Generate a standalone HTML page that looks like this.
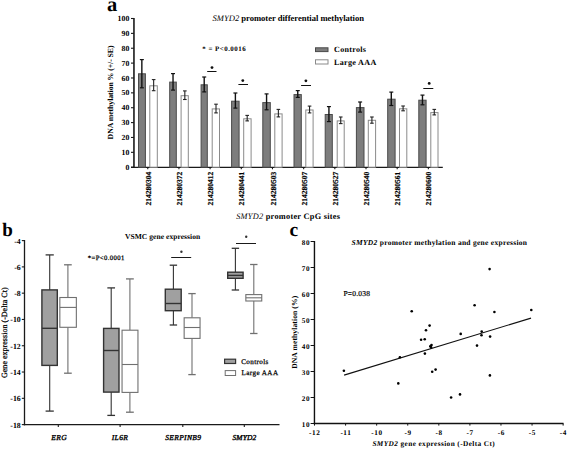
<!DOCTYPE html>
<html><head><meta charset="utf-8"><style>
html,body{margin:0;padding:0;background:#fff;width:567px;height:449px;overflow:hidden}
svg{display:block;font-family:"Liberation Serif", serif;text-rendering:geometricPrecision}
</style></head><body>
<svg width="567" height="449" viewBox="0 0 567 449" font-family='"Liberation Serif", serif'>
<text x="107.10" y="11.10" font-size="20.5" font-weight="bold" font-style="normal" text-anchor="start" fill="#000" >a</text>
<text x="212.6" y="21.3" font-size="8.6" font-weight="bold" textLength="151.4" lengthAdjust="spacing"><tspan font-style="italic" font-weight="normal">SMYD2</tspan> promoter differential methylation</text>
<line x1="133.95" y1="18.00" x2="133.95" y2="167.95" stroke="#1a1a1a" stroke-width="1.6"/>
<line x1="131.00" y1="167.45" x2="442.80" y2="167.45" stroke="#1a1a1a" stroke-width="1.2"/>
<line x1="131.00" y1="167.20" x2="133.95" y2="167.20" stroke="#1a1a1a" stroke-width="1.1"/>
<text x="129.30" y="169.80" font-size="7.8" font-weight="bold" font-style="normal" text-anchor="end" fill="#000" >0</text>
<line x1="131.00" y1="152.33" x2="133.95" y2="152.33" stroke="#1a1a1a" stroke-width="1.1"/>
<text x="129.30" y="154.93" font-size="7.8" font-weight="bold" font-style="normal" text-anchor="end" fill="#000" >10</text>
<line x1="131.00" y1="137.46" x2="133.95" y2="137.46" stroke="#1a1a1a" stroke-width="1.1"/>
<text x="129.30" y="140.06" font-size="7.8" font-weight="bold" font-style="normal" text-anchor="end" fill="#000" >20</text>
<line x1="131.00" y1="122.59" x2="133.95" y2="122.59" stroke="#1a1a1a" stroke-width="1.1"/>
<text x="129.30" y="125.19" font-size="7.8" font-weight="bold" font-style="normal" text-anchor="end" fill="#000" >30</text>
<line x1="131.00" y1="107.72" x2="133.95" y2="107.72" stroke="#1a1a1a" stroke-width="1.1"/>
<text x="129.30" y="110.32" font-size="7.8" font-weight="bold" font-style="normal" text-anchor="end" fill="#000" >40</text>
<line x1="131.00" y1="92.85" x2="133.95" y2="92.85" stroke="#1a1a1a" stroke-width="1.1"/>
<text x="129.30" y="95.45" font-size="7.8" font-weight="bold" font-style="normal" text-anchor="end" fill="#000" >50</text>
<line x1="131.00" y1="77.98" x2="133.95" y2="77.98" stroke="#1a1a1a" stroke-width="1.1"/>
<text x="129.30" y="80.58" font-size="7.8" font-weight="bold" font-style="normal" text-anchor="end" fill="#000" >60</text>
<line x1="131.00" y1="63.11" x2="133.95" y2="63.11" stroke="#1a1a1a" stroke-width="1.1"/>
<text x="129.30" y="65.71" font-size="7.8" font-weight="bold" font-style="normal" text-anchor="end" fill="#000" >70</text>
<line x1="131.00" y1="48.24" x2="133.95" y2="48.24" stroke="#1a1a1a" stroke-width="1.1"/>
<text x="129.30" y="50.84" font-size="7.8" font-weight="bold" font-style="normal" text-anchor="end" fill="#000" >80</text>
<line x1="131.00" y1="33.37" x2="133.95" y2="33.37" stroke="#1a1a1a" stroke-width="1.1"/>
<text x="129.30" y="35.97" font-size="7.8" font-weight="bold" font-style="normal" text-anchor="end" fill="#000" >90</text>
<line x1="131.00" y1="18.50" x2="133.95" y2="18.50" stroke="#1a1a1a" stroke-width="1.1"/>
<text x="129.30" y="21.10" font-size="7.8" font-weight="bold" font-style="normal" text-anchor="end" fill="#000" >100</text>
<text transform="translate(113.4,139.4) rotate(-90)" font-size="7.8" font-weight="bold" textLength="94" lengthAdjust="spacing">DNA methylation % (+/- SE)</text>
<rect x="138.50" y="73.80" width="6.90" height="93.40" fill="#7d7d7d" stroke="#4a4a4a" stroke-width="1"/>
<rect x="149.80" y="85.80" width="7.50" height="81.40" fill="#fff" stroke="#8a8a8a" stroke-width="1"/>
<line x1="141.85" y1="59.60" x2="141.85" y2="87.80" stroke="#111" stroke-width="1.4"/>
<line x1="139.85" y1="59.60" x2="143.85" y2="59.60" stroke="#111" stroke-width="1.2"/>
<line x1="139.85" y1="87.80" x2="143.85" y2="87.80" stroke="#111" stroke-width="1.2"/>
<line x1="153.65" y1="79.60" x2="153.65" y2="90.70" stroke="#222" stroke-width="1.1"/>
<line x1="151.85" y1="79.60" x2="155.45" y2="79.60" stroke="#222" stroke-width="1.1"/>
<line x1="151.85" y1="90.70" x2="155.45" y2="90.70" stroke="#222" stroke-width="1.1"/>
<line x1="147.75" y1="167.20" x2="147.75" y2="169.30" stroke="#1a1a1a" stroke-width="1.1"/>
<text transform="translate(150.85,171.7) rotate(-90)" font-size="7.5" font-weight="bold" text-anchor="end" textLength="33.8" lengthAdjust="spacing" stroke="#000" stroke-width="0.2">214280304</text>
<rect x="169.70" y="82.10" width="6.60" height="85.10" fill="#7d7d7d" stroke="#4a4a4a" stroke-width="1"/>
<rect x="181.10" y="95.70" width="7.20" height="71.50" fill="#fff" stroke="#8a8a8a" stroke-width="1"/>
<line x1="173.03" y1="73.60" x2="173.03" y2="90.10" stroke="#111" stroke-width="1.4"/>
<line x1="171.03" y1="73.60" x2="175.03" y2="73.60" stroke="#111" stroke-width="1.2"/>
<line x1="171.03" y1="90.10" x2="175.03" y2="90.10" stroke="#111" stroke-width="1.2"/>
<line x1="184.83" y1="90.90" x2="184.83" y2="99.50" stroke="#222" stroke-width="1.1"/>
<line x1="183.03" y1="90.90" x2="186.63" y2="90.90" stroke="#222" stroke-width="1.1"/>
<line x1="183.03" y1="99.50" x2="186.63" y2="99.50" stroke="#222" stroke-width="1.1"/>
<line x1="178.93" y1="167.20" x2="178.93" y2="169.30" stroke="#1a1a1a" stroke-width="1.1"/>
<text transform="translate(182.03,171.7) rotate(-90)" font-size="7.5" font-weight="bold" text-anchor="end" textLength="33.8" lengthAdjust="spacing" stroke="#000" stroke-width="0.2">214280372</text>
<rect x="201.10" y="84.80" width="6.20" height="82.40" fill="#7d7d7d" stroke="#4a4a4a" stroke-width="1"/>
<rect x="212.20" y="108.90" width="7.30" height="58.30" fill="#fff" stroke="#8a8a8a" stroke-width="1"/>
<line x1="204.21" y1="77.00" x2="204.21" y2="91.90" stroke="#111" stroke-width="1.4"/>
<line x1="202.21" y1="77.00" x2="206.21" y2="77.00" stroke="#111" stroke-width="1.2"/>
<line x1="202.21" y1="91.90" x2="206.21" y2="91.90" stroke="#111" stroke-width="1.2"/>
<line x1="216.01" y1="104.20" x2="216.01" y2="112.90" stroke="#222" stroke-width="1.1"/>
<line x1="214.21" y1="104.20" x2="217.81" y2="104.20" stroke="#222" stroke-width="1.1"/>
<line x1="214.21" y1="112.90" x2="217.81" y2="112.90" stroke="#222" stroke-width="1.1"/>
<line x1="210.11" y1="167.20" x2="210.11" y2="169.30" stroke="#1a1a1a" stroke-width="1.1"/>
<text transform="translate(213.21,171.7) rotate(-90)" font-size="7.5" font-weight="bold" text-anchor="end" textLength="33.8" lengthAdjust="spacing" stroke="#000" stroke-width="0.2">214280412</text>
<rect x="231.60" y="101.20" width="7.50" height="66.00" fill="#7d7d7d" stroke="#4a4a4a" stroke-width="1"/>
<rect x="243.70" y="118.80" width="7.40" height="48.40" fill="#fff" stroke="#8a8a8a" stroke-width="1"/>
<line x1="235.39" y1="93.00" x2="235.39" y2="108.10" stroke="#111" stroke-width="1.4"/>
<line x1="233.39" y1="93.00" x2="237.39" y2="93.00" stroke="#111" stroke-width="1.2"/>
<line x1="233.39" y1="108.10" x2="237.39" y2="108.10" stroke="#111" stroke-width="1.2"/>
<line x1="247.19" y1="115.40" x2="247.19" y2="120.90" stroke="#222" stroke-width="1.1"/>
<line x1="245.39" y1="115.40" x2="248.99" y2="115.40" stroke="#222" stroke-width="1.1"/>
<line x1="245.39" y1="120.90" x2="248.99" y2="120.90" stroke="#222" stroke-width="1.1"/>
<line x1="241.29" y1="167.20" x2="241.29" y2="169.30" stroke="#1a1a1a" stroke-width="1.1"/>
<text transform="translate(244.39,171.7) rotate(-90)" font-size="7.5" font-weight="bold" text-anchor="end" textLength="33.8" lengthAdjust="spacing" stroke="#000" stroke-width="0.2">214280441</text>
<rect x="262.80" y="102.60" width="7.50" height="64.60" fill="#7d7d7d" stroke="#4a4a4a" stroke-width="1"/>
<rect x="274.80" y="113.90" width="7.30" height="53.30" fill="#fff" stroke="#8a8a8a" stroke-width="1"/>
<line x1="266.57" y1="93.90" x2="266.57" y2="109.80" stroke="#111" stroke-width="1.4"/>
<line x1="264.57" y1="93.90" x2="268.57" y2="93.90" stroke="#111" stroke-width="1.2"/>
<line x1="264.57" y1="109.80" x2="268.57" y2="109.80" stroke="#111" stroke-width="1.2"/>
<line x1="278.37" y1="109.40" x2="278.37" y2="116.90" stroke="#222" stroke-width="1.1"/>
<line x1="276.57" y1="109.40" x2="280.17" y2="109.40" stroke="#222" stroke-width="1.1"/>
<line x1="276.57" y1="116.90" x2="280.17" y2="116.90" stroke="#222" stroke-width="1.1"/>
<line x1="272.47" y1="167.20" x2="272.47" y2="169.30" stroke="#1a1a1a" stroke-width="1.1"/>
<text transform="translate(275.57,171.7) rotate(-90)" font-size="7.5" font-weight="bold" text-anchor="end" textLength="33.8" lengthAdjust="spacing" stroke="#000" stroke-width="0.2">214280503</text>
<rect x="294.00" y="94.60" width="7.30" height="72.60" fill="#7d7d7d" stroke="#4a4a4a" stroke-width="1"/>
<rect x="305.80" y="110.00" width="7.30" height="57.20" fill="#fff" stroke="#8a8a8a" stroke-width="1"/>
<line x1="297.75" y1="90.60" x2="297.75" y2="97.40" stroke="#111" stroke-width="1.4"/>
<line x1="295.75" y1="90.60" x2="299.75" y2="90.60" stroke="#111" stroke-width="1.2"/>
<line x1="295.75" y1="97.40" x2="299.75" y2="97.40" stroke="#111" stroke-width="1.2"/>
<line x1="309.55" y1="106.10" x2="309.55" y2="112.90" stroke="#222" stroke-width="1.1"/>
<line x1="307.75" y1="106.10" x2="311.35" y2="106.10" stroke="#222" stroke-width="1.1"/>
<line x1="307.75" y1="112.90" x2="311.35" y2="112.90" stroke="#222" stroke-width="1.1"/>
<line x1="303.65" y1="167.20" x2="303.65" y2="169.30" stroke="#1a1a1a" stroke-width="1.1"/>
<text transform="translate(306.75,171.7) rotate(-90)" font-size="7.5" font-weight="bold" text-anchor="end" textLength="33.8" lengthAdjust="spacing" stroke="#000" stroke-width="0.2">214280507</text>
<rect x="325.20" y="114.50" width="7.10" height="52.70" fill="#7d7d7d" stroke="#4a4a4a" stroke-width="1"/>
<rect x="337.20" y="120.90" width="7.00" height="46.30" fill="#fff" stroke="#8a8a8a" stroke-width="1"/>
<line x1="328.93" y1="106.60" x2="328.93" y2="121.60" stroke="#111" stroke-width="1.4"/>
<line x1="326.93" y1="106.60" x2="330.93" y2="106.60" stroke="#111" stroke-width="1.2"/>
<line x1="326.93" y1="121.60" x2="330.93" y2="121.60" stroke="#111" stroke-width="1.2"/>
<line x1="340.73" y1="117.00" x2="340.73" y2="123.60" stroke="#222" stroke-width="1.1"/>
<line x1="338.93" y1="117.00" x2="342.53" y2="117.00" stroke="#222" stroke-width="1.1"/>
<line x1="338.93" y1="123.60" x2="342.53" y2="123.60" stroke="#222" stroke-width="1.1"/>
<line x1="334.83" y1="167.20" x2="334.83" y2="169.30" stroke="#1a1a1a" stroke-width="1.1"/>
<text transform="translate(337.93,171.7) rotate(-90)" font-size="7.5" font-weight="bold" text-anchor="end" textLength="33.8" lengthAdjust="spacing" stroke="#000" stroke-width="0.2">214280527</text>
<rect x="356.40" y="107.60" width="7.60" height="59.60" fill="#7d7d7d" stroke="#4a4a4a" stroke-width="1"/>
<rect x="368.30" y="120.30" width="7.30" height="46.90" fill="#fff" stroke="#8a8a8a" stroke-width="1"/>
<line x1="360.11" y1="102.00" x2="360.11" y2="112.10" stroke="#111" stroke-width="1.4"/>
<line x1="358.11" y1="102.00" x2="362.11" y2="102.00" stroke="#111" stroke-width="1.2"/>
<line x1="358.11" y1="112.10" x2="362.11" y2="112.10" stroke="#111" stroke-width="1.2"/>
<line x1="371.91" y1="117.00" x2="371.91" y2="123.20" stroke="#222" stroke-width="1.1"/>
<line x1="370.11" y1="117.00" x2="373.71" y2="117.00" stroke="#222" stroke-width="1.1"/>
<line x1="370.11" y1="123.20" x2="373.71" y2="123.20" stroke="#222" stroke-width="1.1"/>
<line x1="366.01" y1="167.20" x2="366.01" y2="169.30" stroke="#1a1a1a" stroke-width="1.1"/>
<text transform="translate(369.11,171.7) rotate(-90)" font-size="7.5" font-weight="bold" text-anchor="end" textLength="33.8" lengthAdjust="spacing" stroke="#000" stroke-width="0.2">214280540</text>
<rect x="387.70" y="99.20" width="7.40" height="68.00" fill="#7d7d7d" stroke="#4a4a4a" stroke-width="1"/>
<rect x="399.50" y="108.80" width="7.30" height="58.40" fill="#fff" stroke="#8a8a8a" stroke-width="1"/>
<line x1="391.29" y1="92.10" x2="391.29" y2="105.50" stroke="#111" stroke-width="1.4"/>
<line x1="389.29" y1="92.10" x2="393.29" y2="92.10" stroke="#111" stroke-width="1.2"/>
<line x1="389.29" y1="105.50" x2="393.29" y2="105.50" stroke="#111" stroke-width="1.2"/>
<line x1="403.09" y1="106.00" x2="403.09" y2="110.80" stroke="#222" stroke-width="1.1"/>
<line x1="401.29" y1="106.00" x2="404.89" y2="106.00" stroke="#222" stroke-width="1.1"/>
<line x1="401.29" y1="110.80" x2="404.89" y2="110.80" stroke="#222" stroke-width="1.1"/>
<line x1="397.19" y1="167.20" x2="397.19" y2="169.30" stroke="#1a1a1a" stroke-width="1.1"/>
<text transform="translate(400.29,171.7) rotate(-90)" font-size="7.5" font-weight="bold" text-anchor="end" textLength="33.8" lengthAdjust="spacing" stroke="#000" stroke-width="0.2">214280561</text>
<rect x="418.80" y="100.20" width="7.30" height="67.00" fill="#7d7d7d" stroke="#4a4a4a" stroke-width="1"/>
<rect x="430.80" y="112.60" width="7.20" height="54.60" fill="#fff" stroke="#8a8a8a" stroke-width="1"/>
<line x1="422.47" y1="95.10" x2="422.47" y2="104.80" stroke="#111" stroke-width="1.4"/>
<line x1="420.47" y1="95.10" x2="424.47" y2="95.10" stroke="#111" stroke-width="1.2"/>
<line x1="420.47" y1="104.80" x2="424.47" y2="104.80" stroke="#111" stroke-width="1.2"/>
<line x1="434.27" y1="109.40" x2="434.27" y2="114.90" stroke="#222" stroke-width="1.1"/>
<line x1="432.47" y1="109.40" x2="436.07" y2="109.40" stroke="#222" stroke-width="1.1"/>
<line x1="432.47" y1="114.90" x2="436.07" y2="114.90" stroke="#222" stroke-width="1.1"/>
<line x1="428.37" y1="167.20" x2="428.37" y2="169.30" stroke="#1a1a1a" stroke-width="1.1"/>
<text transform="translate(431.47,171.7) rotate(-90)" font-size="7.5" font-weight="bold" text-anchor="end" textLength="33.8" lengthAdjust="spacing" stroke="#000" stroke-width="0.2">214280600</text>
<line x1="207.20" y1="71.50" x2="216.50" y2="71.50" stroke="#111" stroke-width="1.0"/>
<circle cx="212.00" cy="67.60" r="1.4" fill="#111"/>
<line x1="238.40" y1="84.50" x2="248.00" y2="84.50" stroke="#111" stroke-width="1.0"/>
<circle cx="242.80" cy="80.60" r="1.4" fill="#111"/>
<line x1="301.10" y1="85.50" x2="311.00" y2="85.50" stroke="#111" stroke-width="1.0"/>
<circle cx="305.90" cy="80.80" r="1.4" fill="#111"/>
<line x1="423.30" y1="88.50" x2="433.30" y2="88.50" stroke="#111" stroke-width="1.0"/>
<circle cx="429.20" cy="83.40" r="1.4" fill="#111"/>
<text x="202.30" y="50.50" font-size="6.9" font-weight="bold" font-style="normal" text-anchor="start" fill="#000" textLength="43.30" lengthAdjust="spacing" >* = P&lt;0.0016</text>
<rect x="315.50" y="47.80" width="12.50" height="3.80" fill="#7d7d7d" stroke="#4a4a4a" stroke-width="1"/>
<rect x="315.50" y="59.80" width="12.50" height="4.20" fill="#fff" stroke="#8a8a8a" stroke-width="1"/>
<text x="334.00" y="51.90" font-size="8.1" font-weight="bold" font-style="normal" text-anchor="start" fill="#000" textLength="32.00" lengthAdjust="spacing" >Controls</text>
<text x="334.00" y="64.70" font-size="8.1" font-weight="bold" font-style="normal" text-anchor="start" fill="#000" textLength="42.30" lengthAdjust="spacing" >Large AAA</text>
<text x="236.2" y="218.8" font-size="8.3" font-weight="bold" textLength="103.8" lengthAdjust="spacing"><tspan font-style="italic" font-weight="normal">SMYD2</tspan> promoter CpG sites</text>
<text x="2.30" y="236.00" font-size="19" font-weight="bold" font-style="normal" text-anchor="start" fill="#000" >b</text>
<line x1="24.50" y1="240.00" x2="24.50" y2="425.30" stroke="#1a1a1a" stroke-width="1.3"/>
<line x1="23.75" y1="424.60" x2="279.50" y2="424.60" stroke="#1a1a1a" stroke-width="1.4"/>
<line x1="21.80" y1="240.60" x2="24.50" y2="240.60" stroke="#1a1a1a" stroke-width="1.1"/>
<text x="20.70" y="243.60" font-size="7.8" font-weight="bold" font-style="normal" text-anchor="end" fill="#000" >-4</text>
<line x1="21.80" y1="266.89" x2="24.50" y2="266.89" stroke="#1a1a1a" stroke-width="1.1"/>
<text x="20.70" y="269.89" font-size="7.8" font-weight="bold" font-style="normal" text-anchor="end" fill="#000" >-6</text>
<line x1="21.80" y1="293.17" x2="24.50" y2="293.17" stroke="#1a1a1a" stroke-width="1.1"/>
<text x="20.70" y="296.17" font-size="7.8" font-weight="bold" font-style="normal" text-anchor="end" fill="#000" >-8</text>
<line x1="21.80" y1="319.46" x2="24.50" y2="319.46" stroke="#1a1a1a" stroke-width="1.1"/>
<text x="20.70" y="322.46" font-size="7.8" font-weight="bold" font-style="normal" text-anchor="end" fill="#000" >-10</text>
<line x1="21.80" y1="345.74" x2="24.50" y2="345.74" stroke="#1a1a1a" stroke-width="1.1"/>
<text x="20.70" y="348.74" font-size="7.8" font-weight="bold" font-style="normal" text-anchor="end" fill="#000" >-12</text>
<line x1="21.80" y1="372.03" x2="24.50" y2="372.03" stroke="#1a1a1a" stroke-width="1.1"/>
<text x="20.70" y="375.03" font-size="7.8" font-weight="bold" font-style="normal" text-anchor="end" fill="#000" >-14</text>
<line x1="21.80" y1="398.32" x2="24.50" y2="398.32" stroke="#1a1a1a" stroke-width="1.1"/>
<text x="20.70" y="401.32" font-size="7.8" font-weight="bold" font-style="normal" text-anchor="end" fill="#000" >-16</text>
<line x1="21.80" y1="424.60" x2="24.50" y2="424.60" stroke="#1a1a1a" stroke-width="1.1"/>
<text x="20.70" y="427.60" font-size="7.8" font-weight="bold" font-style="normal" text-anchor="end" fill="#000" >-18</text>
<text transform="translate(7.2,378.0) rotate(-90)" font-size="8.0" font-weight="normal" textLength="90.6" lengthAdjust="spacing" stroke="#000" stroke-width="0.25">Gene expression (-Delta Ct)</text>
<line x1="49.70" y1="254.90" x2="49.70" y2="289.90" stroke="#333" stroke-width="1.1"/>
<line x1="49.70" y1="365.40" x2="49.70" y2="411.10" stroke="#333" stroke-width="1.1"/>
<line x1="45.60" y1="254.90" x2="53.80" y2="254.90" stroke="#333" stroke-width="1.3"/>
<line x1="45.60" y1="411.10" x2="53.80" y2="411.10" stroke="#333" stroke-width="1.3"/>
<rect x="41.90" y="289.90" width="15.40" height="75.50" fill="#a0a0a0" stroke="#333" stroke-width="1.4"/>
<line x1="41.90" y1="328.30" x2="57.30" y2="328.30" stroke="#333" stroke-width="1.4"/>
<line x1="67.90" y1="264.80" x2="67.90" y2="297.50" stroke="#707070" stroke-width="1.1"/>
<line x1="67.90" y1="327.30" x2="67.90" y2="373.20" stroke="#707070" stroke-width="1.1"/>
<line x1="64.05" y1="264.80" x2="71.75" y2="264.80" stroke="#707070" stroke-width="1.3"/>
<line x1="64.05" y1="373.20" x2="71.75" y2="373.20" stroke="#707070" stroke-width="1.3"/>
<rect x="59.85" y="297.50" width="16.50" height="29.80" fill="#fff" stroke="#707070" stroke-width="1.1"/>
<line x1="59.85" y1="307.40" x2="76.35" y2="307.40" stroke="#707070" stroke-width="1.1"/>
<line x1="111.20" y1="287.90" x2="111.20" y2="328.40" stroke="#333" stroke-width="1.1"/>
<line x1="111.20" y1="392.10" x2="111.20" y2="415.40" stroke="#333" stroke-width="1.1"/>
<line x1="107.35" y1="287.90" x2="115.05" y2="287.90" stroke="#333" stroke-width="1.3"/>
<line x1="107.35" y1="415.40" x2="115.05" y2="415.40" stroke="#333" stroke-width="1.3"/>
<rect x="103.60" y="328.40" width="15.40" height="63.70" fill="#a0a0a0" stroke="#333" stroke-width="1.4"/>
<line x1="103.60" y1="350.50" x2="119.00" y2="350.50" stroke="#333" stroke-width="1.4"/>
<line x1="129.90" y1="278.90" x2="129.90" y2="330.20" stroke="#707070" stroke-width="1.1"/>
<line x1="129.90" y1="392.40" x2="129.90" y2="412.20" stroke="#707070" stroke-width="1.1"/>
<line x1="126.00" y1="278.90" x2="133.80" y2="278.90" stroke="#707070" stroke-width="1.3"/>
<line x1="126.00" y1="412.20" x2="133.80" y2="412.20" stroke="#707070" stroke-width="1.3"/>
<rect x="122.05" y="330.20" width="15.90" height="62.20" fill="#fff" stroke="#707070" stroke-width="1.1"/>
<line x1="122.05" y1="364.50" x2="137.95" y2="364.50" stroke="#707070" stroke-width="1.1"/>
<line x1="173.40" y1="265.20" x2="173.40" y2="289.20" stroke="#333" stroke-width="1.1"/>
<line x1="173.40" y1="310.70" x2="173.40" y2="325.00" stroke="#333" stroke-width="1.1"/>
<line x1="169.70" y1="265.20" x2="177.10" y2="265.20" stroke="#333" stroke-width="1.3"/>
<line x1="169.70" y1="325.00" x2="177.10" y2="325.00" stroke="#333" stroke-width="1.3"/>
<rect x="165.30" y="289.20" width="15.90" height="21.50" fill="#a0a0a0" stroke="#333" stroke-width="1.4"/>
<line x1="165.30" y1="303.50" x2="181.20" y2="303.50" stroke="#333" stroke-width="1.4"/>
<line x1="192.00" y1="293.60" x2="192.00" y2="317.80" stroke="#707070" stroke-width="1.1"/>
<line x1="192.00" y1="338.40" x2="192.00" y2="374.60" stroke="#707070" stroke-width="1.1"/>
<line x1="188.30" y1="293.60" x2="195.70" y2="293.60" stroke="#707070" stroke-width="1.3"/>
<line x1="188.30" y1="374.60" x2="195.70" y2="374.60" stroke="#707070" stroke-width="1.3"/>
<rect x="184.15" y="317.80" width="15.90" height="20.60" fill="#fff" stroke="#707070" stroke-width="1.1"/>
<line x1="184.15" y1="327.50" x2="200.05" y2="327.50" stroke="#707070" stroke-width="1.1"/>
<line x1="235.40" y1="248.30" x2="235.40" y2="272.20" stroke="#333" stroke-width="1.1"/>
<line x1="235.40" y1="278.30" x2="235.40" y2="290.00" stroke="#333" stroke-width="1.1"/>
<line x1="231.70" y1="248.30" x2="239.10" y2="248.30" stroke="#333" stroke-width="1.3"/>
<line x1="231.70" y1="290.00" x2="239.10" y2="290.00" stroke="#333" stroke-width="1.3"/>
<rect x="227.70" y="272.20" width="15.40" height="6.10" fill="#a0a0a0" stroke="#333" stroke-width="1.4"/>
<line x1="227.70" y1="275.40" x2="243.10" y2="275.40" stroke="#333" stroke-width="1.4"/>
<line x1="253.80" y1="264.50" x2="253.80" y2="294.60" stroke="#707070" stroke-width="1.1"/>
<line x1="253.80" y1="301.00" x2="253.80" y2="333.50" stroke="#707070" stroke-width="1.1"/>
<line x1="250.10" y1="264.50" x2="257.50" y2="264.50" stroke="#707070" stroke-width="1.3"/>
<line x1="250.10" y1="333.50" x2="257.50" y2="333.50" stroke="#707070" stroke-width="1.3"/>
<rect x="245.85" y="294.60" width="15.90" height="6.40" fill="#fff" stroke="#707070" stroke-width="1.1"/>
<line x1="245.85" y1="297.80" x2="261.75" y2="297.80" stroke="#707070" stroke-width="1.1"/>
<line x1="58.30" y1="424.60" x2="58.30" y2="427.00" stroke="#1a1a1a" stroke-width="1.1"/>
<line x1="120.10" y1="424.60" x2="120.10" y2="427.00" stroke="#1a1a1a" stroke-width="1.1"/>
<line x1="182.80" y1="424.60" x2="182.80" y2="427.00" stroke="#1a1a1a" stroke-width="1.1"/>
<line x1="244.30" y1="424.60" x2="244.30" y2="427.00" stroke="#1a1a1a" stroke-width="1.1"/>
<text x="58.90" y="439.90" font-size="7.5" font-weight="normal" font-style="italic" text-anchor="middle" fill="#000" textLength="15.40" lengthAdjust="spacing" stroke="#000" stroke-width="0.35">ERG</text>
<text x="119.80" y="439.90" font-size="7.5" font-weight="normal" font-style="italic" text-anchor="middle" fill="#000" textLength="16.20" lengthAdjust="spacing" stroke="#000" stroke-width="0.35">IL6R</text>
<text x="183.10" y="439.90" font-size="7.5" font-weight="normal" font-style="italic" text-anchor="middle" fill="#000" textLength="35.60" lengthAdjust="spacing" stroke="#000" stroke-width="0.35">SERPINB9</text>
<text x="244.40" y="439.90" font-size="7.5" font-weight="normal" font-style="italic" text-anchor="middle" fill="#000" textLength="23.90" lengthAdjust="spacing" stroke="#000" stroke-width="0.35">SMYD2</text>
<text x="125.00" y="238.80" font-size="7.5" font-weight="bold" font-style="normal" text-anchor="start" fill="#000" textLength="75.20" lengthAdjust="spacing" >VSMC gene expression</text>
<text x="87.80" y="259.60" font-size="6.7" font-weight="normal" font-style="normal" text-anchor="start" fill="#000" textLength="36.50" lengthAdjust="spacing" stroke="#000" stroke-width="0.25">*=P&lt;0.0001</text>
<line x1="171.20" y1="257.50" x2="191.20" y2="257.50" stroke="#1a1a1a" stroke-width="1.0"/>
<circle cx="181.40" cy="251.70" r="1.2" fill="#333"/>
<line x1="236.00" y1="243.50" x2="256.00" y2="243.50" stroke="#1a1a1a" stroke-width="1.0"/>
<circle cx="246.20" cy="236.70" r="1.2" fill="#333"/>
<rect x="224.60" y="359.20" width="11.00" height="4.30" fill="#a0a0a0" stroke="#333" stroke-width="1.2"/>
<rect x="225.20" y="370.60" width="10.40" height="4.90" fill="#fff" stroke="#707070" stroke-width="1.0"/>
<text x="241.20" y="363.70" font-size="7.1" font-weight="normal" font-style="normal" text-anchor="start" fill="#000" textLength="27.10" lengthAdjust="spacing" stroke="#000" stroke-width="0.25">Controls</text>
<text x="241.50" y="375.40" font-size="7.1" font-weight="normal" font-style="normal" text-anchor="start" fill="#000" textLength="36.50" lengthAdjust="spacing" stroke="#000" stroke-width="0.25">Large AAA</text>
<text x="289.60" y="236.00" font-size="19.5" font-weight="bold" font-style="normal" text-anchor="start" fill="#000" >c</text>
<line x1="314.45" y1="241.00" x2="314.45" y2="424.20" stroke="#111" stroke-width="1.4"/>
<line x1="313.75" y1="423.50" x2="563.50" y2="423.50" stroke="#111" stroke-width="1.4"/>
<line x1="310.60" y1="423.50" x2="314.45" y2="423.50" stroke="#111" stroke-width="1.0"/>
<text x="310.10" y="426.70" font-size="7.2" font-weight="bold" font-style="normal" text-anchor="end" fill="#000" letter-spacing="0.6" >10</text>
<line x1="310.60" y1="397.50" x2="314.45" y2="397.50" stroke="#111" stroke-width="1.0"/>
<text x="310.10" y="400.70" font-size="7.2" font-weight="bold" font-style="normal" text-anchor="end" fill="#000" letter-spacing="0.6" >20</text>
<line x1="310.60" y1="371.50" x2="314.45" y2="371.50" stroke="#111" stroke-width="1.0"/>
<text x="310.10" y="374.70" font-size="7.2" font-weight="bold" font-style="normal" text-anchor="end" fill="#000" letter-spacing="0.6" >30</text>
<line x1="310.60" y1="345.50" x2="314.45" y2="345.50" stroke="#111" stroke-width="1.0"/>
<text x="310.10" y="348.70" font-size="7.2" font-weight="bold" font-style="normal" text-anchor="end" fill="#000" letter-spacing="0.6" >40</text>
<line x1="310.60" y1="319.50" x2="314.45" y2="319.50" stroke="#111" stroke-width="1.0"/>
<text x="310.10" y="322.70" font-size="7.2" font-weight="bold" font-style="normal" text-anchor="end" fill="#000" letter-spacing="0.6" >50</text>
<line x1="310.60" y1="293.50" x2="314.45" y2="293.50" stroke="#111" stroke-width="1.0"/>
<text x="310.10" y="296.70" font-size="7.2" font-weight="bold" font-style="normal" text-anchor="end" fill="#000" letter-spacing="0.6" >60</text>
<line x1="310.60" y1="267.50" x2="314.45" y2="267.50" stroke="#111" stroke-width="1.0"/>
<text x="310.10" y="270.70" font-size="7.2" font-weight="bold" font-style="normal" text-anchor="end" fill="#000" letter-spacing="0.6" >70</text>
<line x1="310.60" y1="241.50" x2="314.45" y2="241.50" stroke="#111" stroke-width="1.0"/>
<text x="310.10" y="244.70" font-size="7.2" font-weight="bold" font-style="normal" text-anchor="end" fill="#000" letter-spacing="0.6" >80</text>
<line x1="314.50" y1="423.50" x2="314.50" y2="425.60" stroke="#111" stroke-width="1.0"/>
<text x="314.80" y="435.20" font-size="7.2" font-weight="bold" font-style="normal" text-anchor="middle" fill="#000" letter-spacing="0.6" >-12</text>
<line x1="345.58" y1="423.50" x2="345.58" y2="425.60" stroke="#111" stroke-width="1.0"/>
<text x="345.88" y="435.20" font-size="7.2" font-weight="bold" font-style="normal" text-anchor="middle" fill="#000" letter-spacing="0.6" >-11</text>
<line x1="376.66" y1="423.50" x2="376.66" y2="425.60" stroke="#111" stroke-width="1.0"/>
<text x="376.96" y="435.20" font-size="7.2" font-weight="bold" font-style="normal" text-anchor="middle" fill="#000" letter-spacing="0.6" >-10</text>
<line x1="407.74" y1="423.50" x2="407.74" y2="425.60" stroke="#111" stroke-width="1.0"/>
<text x="408.04" y="435.20" font-size="7.2" font-weight="bold" font-style="normal" text-anchor="middle" fill="#000" letter-spacing="0.6" >-9</text>
<line x1="438.82" y1="423.50" x2="438.82" y2="425.60" stroke="#111" stroke-width="1.0"/>
<text x="439.12" y="435.20" font-size="7.2" font-weight="bold" font-style="normal" text-anchor="middle" fill="#000" letter-spacing="0.6" >-8</text>
<line x1="469.90" y1="423.50" x2="469.90" y2="425.60" stroke="#111" stroke-width="1.0"/>
<text x="470.20" y="435.20" font-size="7.2" font-weight="bold" font-style="normal" text-anchor="middle" fill="#000" letter-spacing="0.6" >-7</text>
<line x1="500.98" y1="423.50" x2="500.98" y2="425.60" stroke="#111" stroke-width="1.0"/>
<text x="501.28" y="435.20" font-size="7.2" font-weight="bold" font-style="normal" text-anchor="middle" fill="#000" letter-spacing="0.6" >-6</text>
<line x1="532.06" y1="423.50" x2="532.06" y2="425.60" stroke="#111" stroke-width="1.0"/>
<text x="532.36" y="435.20" font-size="7.2" font-weight="bold" font-style="normal" text-anchor="middle" fill="#000" letter-spacing="0.6" >-5</text>
<line x1="563.14" y1="423.50" x2="563.14" y2="425.60" stroke="#111" stroke-width="1.0"/>
<text x="563.44" y="435.20" font-size="7.2" font-weight="bold" font-style="normal" text-anchor="middle" fill="#000" letter-spacing="0.6" >-4</text>
<text x="351.6" y="245.0" font-size="7.5" font-weight="bold" textLength="175.4" lengthAdjust="spacing"><tspan font-style="italic">SMYD2</tspan> promoter methylation and gene expression</text>
<text x="343.40" y="296.10" font-size="7.5" font-weight="normal" font-style="normal" text-anchor="start" fill="#000" textLength="26.60" lengthAdjust="spacing" stroke="#000" stroke-width="0.2">P=0.038</text>
<text transform="translate(297.2,368.8) rotate(-90)" font-size="7.6" font-weight="bold" textLength="73" lengthAdjust="spacing">DNA methylation (%)</text>
<text x="372.4" y="445.7" font-size="7.3" font-weight="bold" textLength="122.3" lengthAdjust="spacing"><tspan font-style="italic">SMYD2</tspan> gene expression (-Delta Ct)</text>
<line x1="344.10" y1="375.10" x2="531.00" y2="318.10" stroke="#111" stroke-width="1.15"/>
<circle cx="343.90" cy="370.80" r="1.3" fill="#000"/>
<circle cx="398.30" cy="383.40" r="1.3" fill="#000"/>
<circle cx="399.90" cy="357.30" r="1.3" fill="#000"/>
<circle cx="411.70" cy="311.20" r="1.3" fill="#000"/>
<circle cx="421.10" cy="339.80" r="1.3" fill="#000"/>
<circle cx="424.70" cy="339.20" r="1.3" fill="#000"/>
<circle cx="426.00" cy="330.20" r="1.3" fill="#000"/>
<circle cx="429.60" cy="325.60" r="1.3" fill="#000"/>
<circle cx="424.90" cy="353.60" r="1.3" fill="#000"/>
<circle cx="431.50" cy="345.00" r="1.3" fill="#000"/>
<circle cx="430.30" cy="346.30" r="1.3" fill="#000"/>
<circle cx="431.10" cy="347.40" r="1.3" fill="#000"/>
<circle cx="432.20" cy="371.70" r="1.3" fill="#000"/>
<circle cx="435.60" cy="369.60" r="1.3" fill="#000"/>
<circle cx="451.10" cy="397.50" r="1.3" fill="#000"/>
<circle cx="460.00" cy="394.40" r="1.3" fill="#000"/>
<circle cx="460.70" cy="333.90" r="1.3" fill="#000"/>
<circle cx="474.60" cy="305.30" r="1.3" fill="#000"/>
<circle cx="477.00" cy="345.60" r="1.3" fill="#000"/>
<circle cx="481.70" cy="331.60" r="1.3" fill="#000"/>
<circle cx="481.50" cy="335.30" r="1.3" fill="#000"/>
<circle cx="489.60" cy="269.10" r="1.3" fill="#000"/>
<circle cx="490.10" cy="336.60" r="1.3" fill="#000"/>
<circle cx="489.90" cy="375.40" r="1.3" fill="#000"/>
<circle cx="494.40" cy="312.00" r="1.3" fill="#000"/>
<circle cx="531.30" cy="310.00" r="1.3" fill="#000"/>
</svg>
</body></html>
